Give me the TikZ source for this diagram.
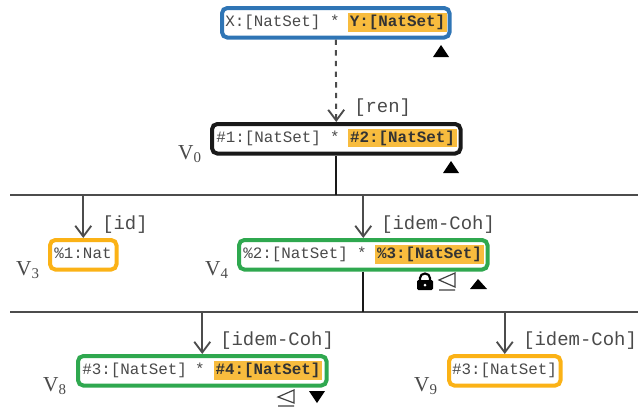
\documentclass[tikz,border=0pt]{standalone}
\usepackage{fontspec}
\setmonofont{Liberation Mono}
\setmainfont{Liberation Serif}
\usetikzlibrary{arrows.meta}
\definecolor{cblue}{HTML}{2F75B5}
\definecolor{cyel}{HTML}{FBB216}
\definecolor{chl}{HTML}{F8BC3E}
\definecolor{cgreen}{HTML}{2FA84F}
\definecolor{ctxt}{HTML}{4A4A4A}
\tikzset{
  x=0.75pt,y=-0.75pt,
  vbox/.style={draw,line width=3pt,rounded corners=4pt,fill=white,inner sep=0pt,anchor=north west,minimum height=22.15pt},
  hl/.style={fill=chl,inner sep=0pt,minimum height=14pt,text=black!80,font=\ttfamily\fontsize{11.9}{12}\selectfont\bfseries,text height=8.4pt,text depth=2pt},
  code/.style={inner sep=0pt,text=ctxt,font=\ttfamily\fontsize{11.9}{12}\selectfont,text height=8.4pt,text depth=2pt},
  rulelabel/.style={inner sep=0pt,text=ctxt,anchor=west,font=\ttfamily\fontsize{14.2}{15}\selectfont},
  vlabel/.style={inner sep=0pt,text=ctxt,font=\fontsize{16}{17}\selectfont},
  arr/.style={draw=black!70,line width=1.5pt,-{Straight Barb[length=8pt,width=12pt,line width=1.4pt]}},
  bus/.style={draw=black!70,line width=1.3pt},
  stem/.style={draw=black!90,line width=1.8pt},
  tri/.style={fill=black,draw=none},
  lesym/.style={draw=black!75,line width=0.9pt},
}
\begin{document}
\begin{tikzpicture}
\useasboundingbox (0,0) rectangle (638,408);
% boxes
\node[vbox,draw=cblue,minimum width=170.65pt] (top) at (220,6) {};
\node[vbox,draw=black!90,minimum width=186.4pt] (v0) at (210,122) {};
\node[vbox,draw=cyel,minimum width=49.9pt] (v3) at (48,238) {};
\node[vbox,draw=cgreen,minimum width=186.4pt] (v4) at (237,238) {};
\node[vbox,draw=cgreen,minimum width=186.4pt] (v8) at (76,354) {};
\node[vbox,draw=cyel,minimum width=83.65pt] (v9) at (447,354) {};
% bus lines
\coordinate (b1l) at (10,195); \coordinate (b1r) at (638,195);
\coordinate (b2l) at (10,312); \coordinate (b2r) at (638,312);
\draw[bus] (b1l) -- (b1r);
\draw[bus] (b2l) -- (b2r);
% connectors
\draw[arr,dashed,dash pattern=on 4pt off 4pt] (top.south) -- (v0.north);
\draw[stem] (v0.south) -- (v0.south |- b1l);
\draw[arr] (v3.north |- b1l) -- (v3.north);
\draw[arr] (v4.north |- b1l) -- (v4.north);
\draw[stem] (v4.south) -- (v4.south |- b2l);
\draw[arr] (v8.north |- b2l) -- (v8.north);
\draw[arr] (v9.north |- b2l) -- (v9.north);
% code text
\node[code,anchor=west] (t1) at (225,22.5) {X:[NatSet]};
\node[code] (s1) at (335,22.5) {*};
\node[hl,minimum width=74pt] (h1) at (397.5,22.5) {Y:[NatSet]};
\node[code,anchor=west] (t2) at (216,138) {\#1:[NatSet]};
\node[code] (s2) at (335,138) {*};
\node[hl,minimum width=82pt] (h2) at (402.5,138) {\#2:[NatSet]};
\node[code] (t3) at (83,254.5) {\%1:Nat};
\node[code,anchor=west] (t4) at (243,254.5) {\%2:[NatSet]};
\node[code] (s4) at (362,254.5) {*};
\node[hl,minimum width=82pt] (h4) at (429.5,254.5) {\%3:[NatSet]};
\node[code,anchor=west] (t8) at (82,370.5) {\#3:[NatSet]};
\node[code] (s8) at (200,370.5) {*};
\node[hl,minimum width=81pt] (h8) at (268,370.5) {\#4:[NatSet]};
\node[code] (t9) at (504.5,370.5) {\#3:[NatSet]};
% rule labels
\node[rulelabel] (rren) at (354,108) {[ren]};
\node[rulelabel] (rid) at (102,225) {[id]};
\node[rulelabel] (rc4) at (381,225) {[idem-Coh]};
\node[rulelabel] (rc8) at (220,341) {[idem-Coh]};
\node[rulelabel] (rc9) at (523,341) {[idem-Coh]};
% V labels
\node[vlabel] (l0) at (190,154) {V$_{\mathrm{0}}$};
\node[vlabel] (l3) at (28,270) {V$_{\mathrm{3}}$};
\node[vlabel] (l4) at (217,270) {V$_{\mathrm{4}}$};
\node[vlabel] (l8) at (55,386) {V$_{\mathrm{8}}$};
\node[vlabel] (l9) at (426,386) {V$_{\mathrm{9}}$};
% triangles
\fill[tri] (433,57) -- (441,45) -- (449,57) -- cycle;
\fill[tri] (443,173) -- (451,161) -- (459,173) -- cycle;
\fill[tri] (470,289) -- (478,279) -- (487,289) -- cycle;
\fill[tri] (309,391) -- (325,391) -- (317,403) -- cycle;
% lock
\fill[black,rounded corners=1pt] (417,280) rectangle (433,290);
\draw[black,line width=1.6pt] (420,281) -- (420,278) arc[start angle=180,end angle=360,x radius=5,y radius=4.5] -- (430,281);
\fill[white] (425,285) circle[radius=1.5];
% unlhd symbols
\draw[lesym] (455,273) -- (439,280) -- (455,287) -- cycle (439,290) -- (455,290);
\draw[lesym] (294,390) -- (278,397) -- (294,403) -- cycle (278,406) -- (294,406);
\end{tikzpicture}
\end{document}
